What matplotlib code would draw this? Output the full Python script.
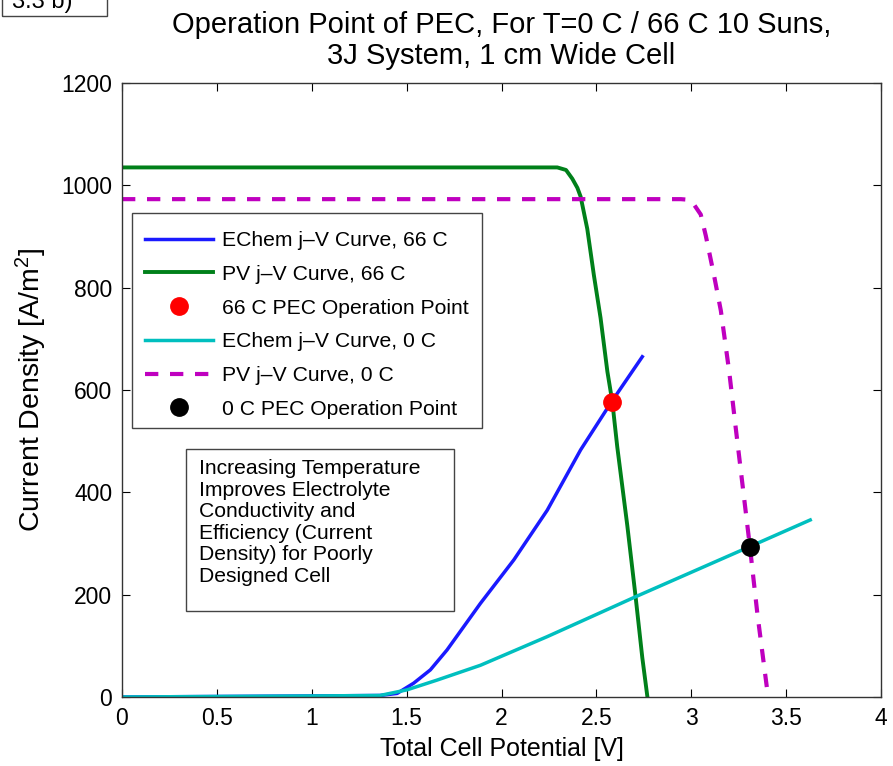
import numpy as np
import matplotlib
matplotlib.use('Agg')
import matplotlib.pyplot as plt
from matplotlib.patches import Rectangle

plt.rcParams['font.family'] = ['Liberation Sans', 'DejaVu Sans']
plt.rcParams['mathtext.fontset'] = 'custom'
plt.rcParams['mathtext.rm'] = 'Liberation Sans'
plt.rcParams['mathtext.it'] = 'Liberation Sans:italic'

##____________________________ Data ____________________________##
# EChem j-V curve, 66 C
echem66_v = [0, 0.5, 1.0, 1.36, 1.45, 1.537, 1.625, 1.713, 1.889, 2.065, 2.241, 2.417, 2.58, 2.742]
echem66_j = [0, 1, 2, 3, 7, 27, 53, 92, 183, 268, 365, 483, 577, 665]

# PV j-V curve, 66 C
pv66_v = [0, 1.0, 2.0, 2.294, 2.34, 2.373, 2.40, 2.417, 2.452, 2.487, 2.522, 2.558, 2.584, 2.61, 2.663, 2.707, 2.742, 2.769]
pv66_j = [1035, 1035, 1035, 1035, 1030, 1013, 995, 978, 915, 824, 741, 636, 577, 489, 335, 195, 77, 0]

# EChem j-V curve, 0 C
echem0_v = [0, 0.5, 1.0, 1.36, 1.502, 1.66, 1.889, 2.241, 2.522, 2.707, 3.309, 3.627]
echem0_j = [0, 1, 2, 3, 14, 33, 62, 118, 165, 196, 294, 346]

# PV j-V curve, 0 C
pv0_v = [0, 1.0, 2.0, 2.945, 2.98, 3.006, 3.05, 3.077, 3.12, 3.156, 3.2, 3.235, 3.309, 3.349, 3.405]
pv0_j = [973, 973, 973, 973, 972, 967, 943, 901, 824, 755, 636, 524, 294, 161, 0]

# operation points
op66 = (2.58, 577)
op0 = (3.309, 294)

labels = ['EChem j\u2013V Curve, 66 C', 'PV j\u2013V Curve, 66 C', '66 C PEC Operation Point',
          'EChem j\u2013V Curve, 0 C', 'PV j\u2013V Curve, 0 C', '0 C PEC Operation Point']

xticks = [0, 0.5, 1, 1.5, 2, 2.5, 3, 3.5, 4]
xticklabels = ['0', '0.5', '1', '1.5', '2', '2.5', '3', '3.5', '4']
yticks = [0, 200, 400, 600, 800, 1000, 1200]

note = ('Increasing Temperature\nImproves Electrolyte\nConductivity and\n'
        'Efficiency (Current\nDensity) for Poorly\nDesigned Cell')

##____________________________ Plot ____________________________##
fig = plt.figure(figsize=(8.93, 7.66), dpi=100)
ax = fig.add_axes([122/893, 1 - 697/766, 759/893, 614/766])

# pixel -> axes fraction helpers
px = lambda x: (x - 122) / 759
py = lambda y: (697 - y) / 614

blue = (0.1, 0.1, 1.0)
green = (0.0, 0.5, 0.1)
cyan = (0.0, 0.75, 0.75)
magenta = (0.75, 0.0, 0.75)

ax.plot(echem66_v, echem66_j, color=blue, lw=2.5, label=labels[0])
ax.plot(pv66_v, pv66_j, color=green, lw=2.8, label=labels[1])
ax.plot(*op66, 'o', color=(1, 0, 0), ms=12.5, label=labels[2])
ax.plot(echem0_v, echem0_j, color=cyan, lw=2.5, label=labels[3])
ax.plot(pv0_v, pv0_j, color=magenta, lw=3.0, ls=(0, (3.2, 2.8)), label=labels[4])
ax.plot(*op0, 'o', color='k', ms=12.5, label=labels[5])

ax.set_xlim(0, 4)
ax.set_ylim(0, 1200)
ax.set_xticks(xticks)
ax.set_xticklabels(xticklabels)
ax.set_yticks(yticks)
ax.tick_params(direction='in', length=6, top=True, right=True, labelsize=16.5, pad=7)
for s in ax.spines.values():
    s.set_linewidth(1.0)
    s.set_color('#333333')

ax.set_xlabel('Total Cell Potential [V]', fontsize=18, labelpad=5)
ax.set_ylabel('Current Density [A/m$^2$]', fontsize=20.5, labelpad=9)
ax.set_title('Operation Point of PEC, For T=0 C / 66 C 10 Suns,\n3J System, 1 cm Wide Cell',
             fontsize=21, pad=14, linespacing=1.1)

# legend without its own frame, box drawn separately
leg = ax.legend(loc='upper left', bbox_to_anchor=(px(145), py(231)),
                borderaxespad=0, fontsize=15.2, handlelength=3.2, handletextpad=0.47,
                labelspacing=0.70, borderpad=0, frameon=False, numpoints=1)
ax.add_patch(Rectangle((px(132), py(428)), px(482) - px(132), py(213) - py(428),
                       transform=ax.transAxes, facecolor='white', ec='#444444', lw=1.0, zorder=4))
leg.set_zorder(5)

# annotation box
ax.add_patch(Rectangle((px(186), py(611)), px(454) - px(186), py(449) - py(611),
                       transform=ax.transAxes, fill=False, ec='#444444', lw=1.0))
ax.text(px(199), py(459), note, transform=ax.transAxes, fontsize=15.2,
        va='top', ha='left', linespacing=1.17)

# panel tag cut off at the top left
fig.patches.append(Rectangle((2/893, 1 - 16/766), 105/893, 40/766, transform=fig.transFigure,
                             fill=False, ec='#444444', lw=1.0))
fig.text(12/893, 1 - 8/766, '3.3 b)', fontsize=17, va='baseline', ha='left')

plt.savefig('out.png', dpi=100)
